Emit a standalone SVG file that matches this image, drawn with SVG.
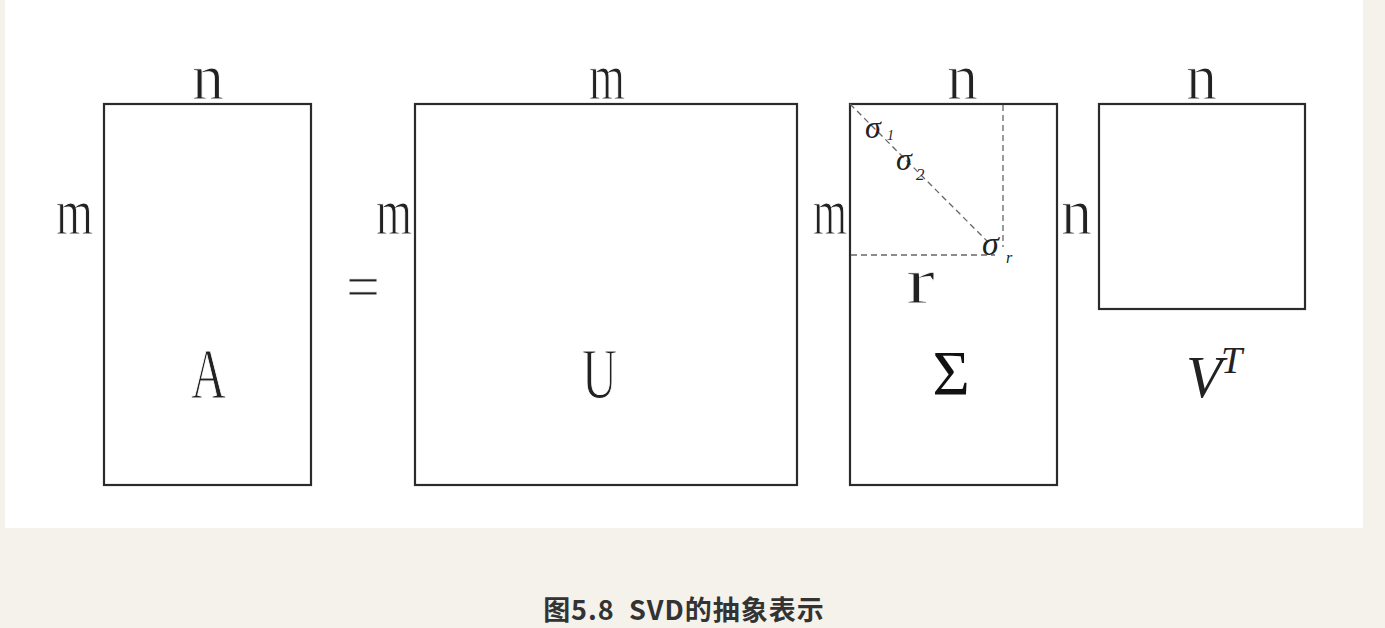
<svg xmlns="http://www.w3.org/2000/svg" width="1385" height="628" viewBox="0 0 1385 628">
<style>
.mat{fill:none;stroke:#2b2b2b;stroke-width:2.2}
.dash{fill:none;stroke:#666;stroke-width:1.3;stroke-dasharray:6 4}
.lbl{font-family:"Liberation Serif","Times New Roman",serif;font-size:66px;fill:#222;stroke:#fff;stroke-width:1.1px}
.big{font-family:"Liberation Serif","Times New Roman",serif;font-size:71px;fill:#222;stroke:#fff;stroke-width:1.1px}
.sig{font-family:"Liberation Serif","Times New Roman",serif;font-size:64px;fill:#111}
.it{font-family:"Liberation Serif","Times New Roman",serif;font-style:italic;fill:#222}
.cap{font-family:"Noto Sans CJK SC","Noto Sans",sans-serif;font-size:27px;font-weight:bold;fill:#333;letter-spacing:1px}
</style>
<rect x="0" y="0" width="1385" height="628" fill="#f5f2ec"/>
<rect x="5" y="0" width="1358" height="528" fill="#ffffff"/>

<g id="matrix-A">
<rect class="mat" x="104" y="104" width="207" height="381"/>
<text class="lbl" x="192" y="99" textLength="32" lengthAdjust="spacingAndGlyphs">n</text>
<text class="lbl" x="56" y="234" textLength="37" lengthAdjust="spacingAndGlyphs">m</text>
<text class="big" x="191" y="398" textLength="35" lengthAdjust="spacingAndGlyphs">A</text>
</g>

<g id="equals">
<text class="lbl" x="346" y="309" textLength="34" lengthAdjust="spacingAndGlyphs">=</text>
</g>

<g id="matrix-U">
<rect class="mat" x="415" y="104" width="382" height="381"/>
<text class="lbl" x="589" y="99" textLength="36" lengthAdjust="spacingAndGlyphs">m</text>
<text class="lbl" x="376" y="234" textLength="36" lengthAdjust="spacingAndGlyphs">m</text>
<text class="big" x="582" y="398" textLength="35" lengthAdjust="spacingAndGlyphs">U</text>
</g>

<g id="matrix-Sigma">
<rect class="mat" x="850" y="104" width="207" height="381"/>
<text class="lbl" x="947" y="99" textLength="31" lengthAdjust="spacingAndGlyphs">n</text>
<text class="lbl" x="813" y="234" textLength="34" lengthAdjust="spacingAndGlyphs">m</text>
<text class="lbl" x="906" y="303" textLength="29" lengthAdjust="spacingAndGlyphs">r</text>
<text class="sig" x="951" y="395" text-anchor="middle">Σ</text>
</g>

<g id="connectors">
<line class="dash" x1="850" y1="104" x2="988" y2="242"/>
<line class="dash" x1="1003" y1="105" x2="1003" y2="247"/>
<line class="dash" x1="851" y1="255" x2="995" y2="255"/>
</g>

<g id="sigma-labels">
<text class="it" x="865" y="138" font-size="32">σ</text>
<text class="it" x="887" y="140" font-size="14">1</text>
<text class="it" x="896" y="170" font-size="32">σ</text>
<text class="it" x="916" y="180" font-size="17">2</text>
<text class="it" x="982" y="255" font-size="34">σ</text>
<text class="it" x="1006" y="263" font-size="16">r</text>
</g>

<g id="matrix-VT">
<rect class="mat" x="1099" y="104" width="206" height="205"/>
<text class="lbl" x="1186" y="99" textLength="31" lengthAdjust="spacingAndGlyphs">n</text>
<text class="lbl" x="1061" y="234" textLength="31" lengthAdjust="spacingAndGlyphs">n</text>
<text class="it" x="1186" y="397" font-size="60" textLength="36" lengthAdjust="spacingAndGlyphs">V</text>
<text class="it" x="1221" y="373" font-size="38">T</text>
</g>

<text class="cap" x="684" y="620" text-anchor="middle" xml:space="preserve">图5.8  SVD的抽象表示</text>
</svg>
